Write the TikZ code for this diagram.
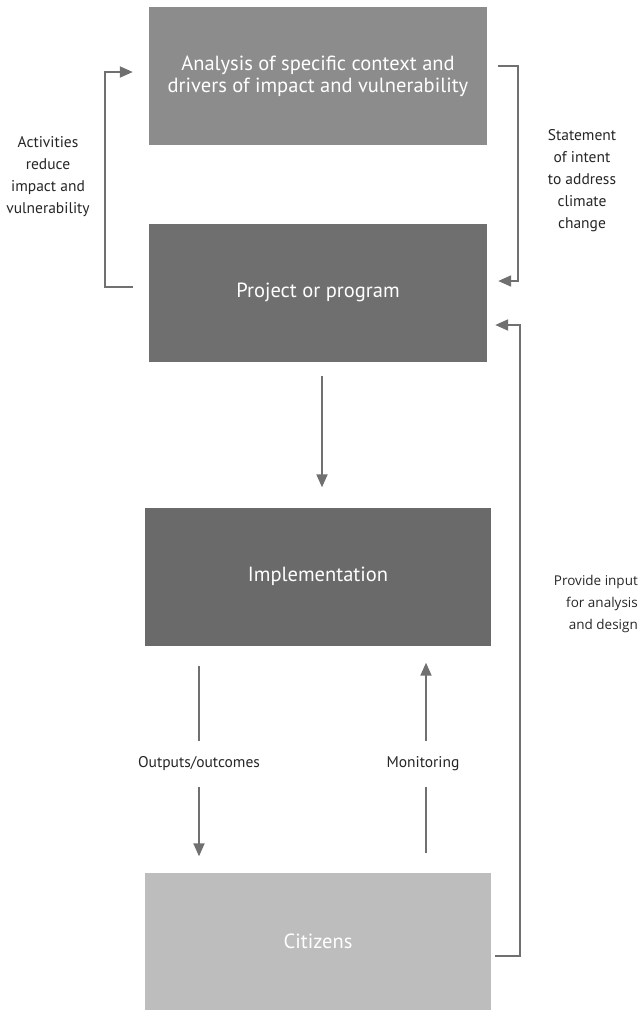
\documentclass[tikz,border=0pt]{standalone}
\usepackage{fontspec}
\setmainfont{PT Sans}
\newfontfamily\widefont{Open Sans}
\usetikzlibrary{arrows.meta}
\definecolor{boxa}{HTML}{8C8C8C}
\definecolor{boxb}{HTML}{6F6F6F}
\definecolor{boxc}{HTML}{6A6A6A}
\definecolor{boxd}{HTML}{BDBDBD}
\definecolor{linegray}{HTML}{707070}
\begin{document}
\begin{tikzpicture}[x=1pt,y=-1pt]
\tikzstyle{stagebox}=[minimum width=338pt,minimum height=138pt,inner sep=0pt,text=white,font=\fontsize{20.5}{22}\selectfont,align=center]
\tikzstyle{note}=[inner sep=0pt,text=black!85,font=\fontsize{15.5}{22}\selectfont,align=center]
\tikzstyle{flow}=[draw=linegray,line width=2pt,-{Triangle[length=13pt,width=11pt]}]
\tikzstyle{plain}=[draw=linegray,line width=2pt]
\useasboundingbox (0,0) rectangle (642,1010);
\node [stagebox,fill=boxa] (ana) at (318,76) {Analysis of specific context and\\drivers of impact and vulnerability};
\node [stagebox,fill=boxb] (proj) at (318,292.5) {Project or program};
\node [stagebox,fill=boxc,minimum width=346pt] (impl) at (318,576.5) {Implementation};
\node [stagebox,fill=boxd,minimum width=346pt] (cit) at (318,941.5) {Citizens};
\node [note] (act) at (48,177) {Activities\\reduce\\impact and\\vulnerability};
\node [note] (stat) at (582,181) {Statement\\of intent\\to address\\climate\\change};
\node [note,font=\widefont\fontsize{13.5}{22}\selectfont,align=right,anchor=east] (prov) at (638,604) {Provide input\\for analysis\\and design};
\node [note,inner ysep=16pt] (outp) at (199,764) {Outputs/outcomes};
\node [note,inner ysep=16pt] (mon) at (423,764) {Monitoring};
\draw [flow] ([xshift=-16pt,yshift=6pt]proj.west) -- ++(-28,0) |- ([xshift=-16pt,yshift=4pt]ana.west);
\draw [flow] ([xshift=11pt,yshift=10pt]ana.east) -- ++(20,0) |- ([xshift=11pt,yshift=11.5pt]proj.east);
\draw [flow] ([xshift=4pt,yshift=-14.5pt]cit.east) -- ++(25,0) |- ([xshift=8pt,yshift=-32.5pt]proj.east);
\draw [flow] ([xshift=4pt,yshift=-14pt]proj.south) -- ([xshift=4pt,yshift=20pt]impl.north);
\draw [plain] (impl.south -| outp) ++(0,20) -- (outp.north);
\draw [flow] (outp.south) -- ([yshift=16pt]cit.north -| outp);
\draw [plain] ([yshift=19pt]cit.north -| 426,0) -- (mon.south -| 426,0);
\draw [flow] (mon.north -| 426,0) -- ([yshift=-17pt]impl.south -| 426,0);
\end{tikzpicture}
\end{document}
